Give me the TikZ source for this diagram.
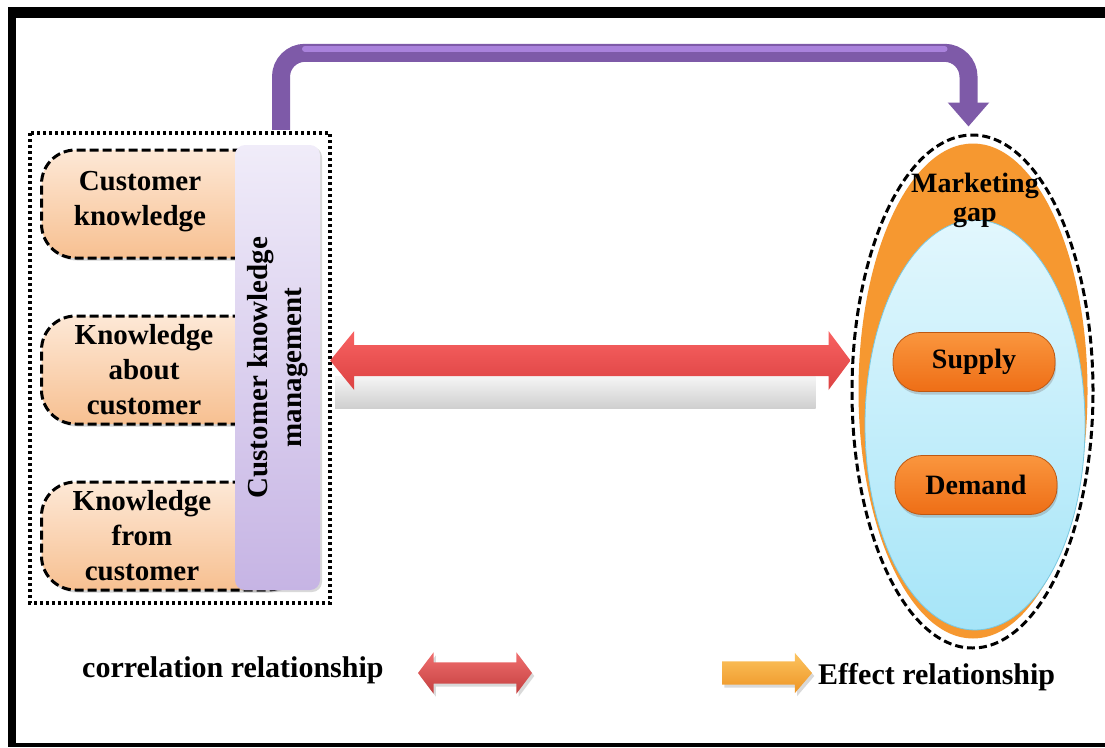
\documentclass[tikz,border=0pt]{standalone}
\usepackage{fontspec}
\setmainfont{Liberation Serif}
\usetikzlibrary{calc}
\usetikzlibrary{arrows.meta}
\usetikzlibrary{shapes.geometric,shapes.arrows}
\usetikzlibrary{shadows}
\usetikzlibrary{positioning}

\definecolor{peachtop}{RGB}{253,232,214}
\definecolor{peachbot}{RGB}{247,192,145}
\definecolor{lavtop}{RGB}{240,236,249}
\definecolor{lavbot}{RGB}{198,180,228}
\definecolor{purplearr}{RGB}{126,90,168}
\definecolor{purplehi}{RGB}{170,130,220}
\definecolor{redhi}{RGB}{248,98,98}
\definecolor{redlo}{RGB}{220,66,66}
\definecolor{gaporange}{RGB}{246,152,48}
\definecolor{skytop}{RGB}{226,247,253}
\definecolor{skybot}{RGB}{166,229,248}
\definecolor{skyedge}{RGB}{120,200,225}
\definecolor{pilltop}{RGB}{250,150,62}
\definecolor{pillbot}{RGB}{238,110,22}
\definecolor{legred}{RGB}{196,64,64}
\definecolor{legredhi}{RGB}{240,110,110}
\definecolor{legorange}{RGB}{238,148,36}
\definecolor{legorangehi}{RGB}{252,196,96}

\tikzset{
  kbox/.style={draw=black, line width=3pt, dash pattern=on 9pt off 4pt,
    rounded corners=34pt, top color=peachtop, bottom color=peachbot,
    minimum width=260pt, minimum height=108pt, anchor=west, inner sep=0pt,
    drop shadow={opacity=0.35, shadow xshift=1.5pt, shadow yshift=-2.5pt}},
  ktext/.style={font=\fontsize{29}{35}\selectfont\bfseries, align=center, inner sep=0pt},
  cymbox/.style={rounded corners=10pt, top color=lavtop, bottom color=lavbot,
    minimum width=85pt, minimum height=445pt, inner sep=0pt,
    font=\fontsize{29}{34}\selectfont\bfseries,
    drop shadow={opacity=0.3, shadow xshift=2pt, shadow yshift=-2pt}},
  pill/.style={rounded corners=27pt, top color=pilltop, bottom color=pillbot,
    draw=pillbot!80!black, line width=0.8pt, minimum width=162pt, minimum height=59pt,
    font=\fontsize{28}{34}\selectfont\bfseries,
    drop shadow={opacity=0.35, shadow xshift=1pt, shadow yshift=-3pt}},
  effarrow/.style={draw=purplearr, line width=18pt, rounded corners=24pt,
    -{Triangle[length=24pt,width=40pt]}},
  legtext/.style={font=\fontsize{30}{36}\selectfont\bfseries, inner sep=0pt, anchor=west},
}

\begin{document}
\begin{tikzpicture}[x=1pt,y=-1pt]
\useasboundingbox (0,0) rectangle (1105,747);
% frame
\fill[black] (8,7) rectangle (1105,18);
\fill[black] (8,7) rectangle (16,747);
\fill[black] (8,743) rectangle (1105,747);

% customer knowledge group
\draw[line width=3.2pt, dash pattern=on 3.2pt off 2.8pt] (30,133) rectangle (330,603);
\foreach \y/\n in {204/ck,370/kac,536/kfc}
  \node[kbox] (\n) at (40,\y) {};
\node[ktext] (ckt) at ($(ck.west)+(100,-2)$) {Customer\\knowledge};
\node[ktext] (kact) at ($(kac.west)+(104,0)$) {Knowledge\\about\\customer};
\node[ktext] (kfct) at ($(kfc.west)+(102,0)$) {Knowledge\\from\\customer};
\node[cymbox] (cym) at (277.5,367.5)
  {\rotatebox{90}{\begin{tabular}{@{}c@{}}Customer knowledge\\management\end{tabular}}};

% marketing gap
\node[ellipse, draw=black, line width=3pt, dash pattern=on 8pt off 4pt, fill=white,
  minimum width=241pt, minimum height=513pt, inner sep=0pt] (gap) at (972.5,391.5) {};
\node[ellipse, fill=gaporange, minimum width=229pt, minimum height=495pt, inner sep=0pt]
  (gapo) at (973,391) {};
\node[ellipse, top color=skytop, bottom color=skybot, draw=skyedge, line width=0.8pt,
  minimum width=220pt, minimum height=410pt, inner sep=0pt] (gapi) at (975,425) {};
\node[ktext, font=\fontsize{28}{29}\selectfont\bfseries] (mgt) at (975,200) {Marketing\\gap};
\node[pill] (sup) at (974,362) {Supply};
\node[pill] (dem) at (976,485) {Demand};

% correlation arrow
\coordinate (ra) at ($(cym.east)+(10,-7)$);
\coordinate (rb) at (gap.west |- ra);
\shade[top color=gray!8, bottom color=gray!38] ($(ra)+(5,16)$) rectangle ($(rb)+(-35,48)$);
\shade[top color=redhi, bottom color=redlo] (ra) -- ++(24,-29.5) -- ++(0,14)
  -- ($(rb)+(-22,-15.5)$) -- ++(0,-14) -- (rb) -- ++(-22,29.5) -- ++(0,-14)
  -- ($(ra)+(24,15.5)$) -- ++(0,14) -- cycle;

% effect arrow
\coordinate (pa) at ($(cym.north)+(3.5,-15)$);
\coordinate (pe) at ($(gap.north)+(-4,-7)$);
\draw[effarrow] (pa) -- ++(0,-77) -| (pe);
\draw[purplehi, line width=6pt, line cap=round] ($(pa)+(24,-81)$) -- ($(pe |- pa)+(-24,-81)$);

% legend
\node[legtext] (corrt) at (82,670) {correlation relationship};
\node[double arrow, top color=legredhi, bottom color=legred, inner xsep=0pt, inner ysep=10.5pt,
  minimum height=114pt, double arrow head extend=10pt, double arrow tip angle=106,
  drop shadow={opacity=0.3, shadow yshift=-3pt}] (corr) at (475,673) {};
\node[single arrow, top color=legorangehi, bottom color=legorange, inner xsep=0pt, inner ysep=11.5pt,
  minimum height=90pt, single arrow head extend=8.5pt, single arrow tip angle=99,
  drop shadow={opacity=0.3, shadow yshift=-3pt}] (eff) at (762,673) {};
\node[legtext] (efft) at (818,677) {Effect relationship};
\end{tikzpicture}
\end{document}
